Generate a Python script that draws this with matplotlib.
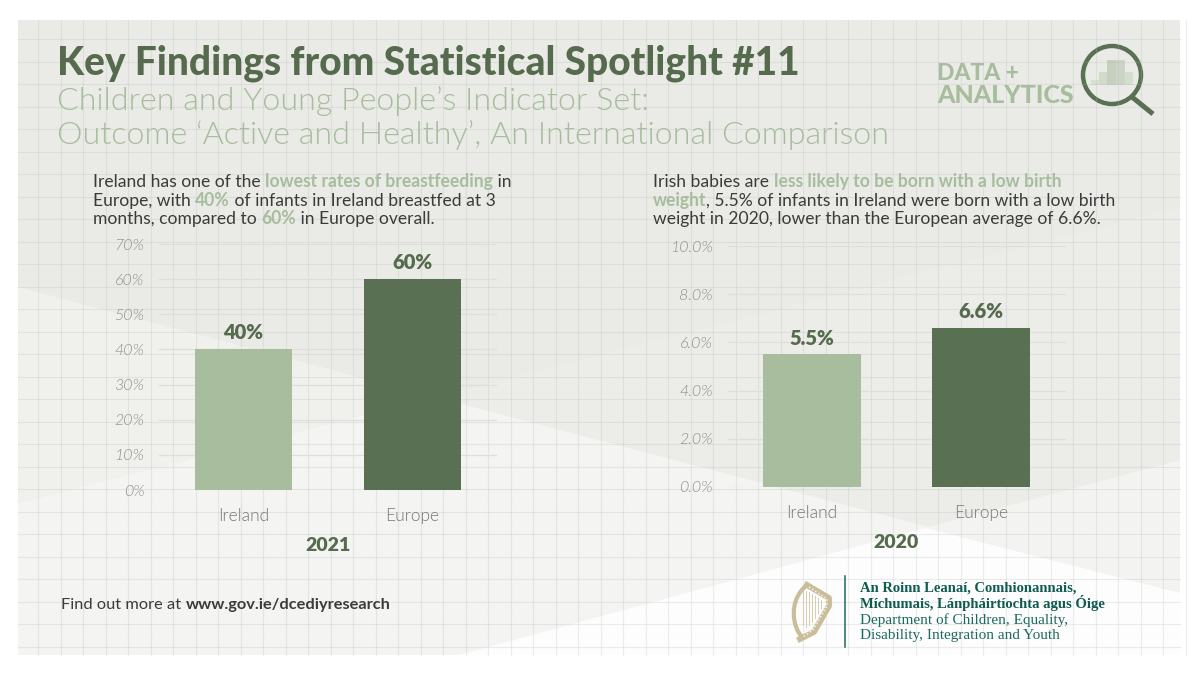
import matplotlib
matplotlib.use("Agg")
import matplotlib.pyplot as plt
from matplotlib import font_manager as fm
from matplotlib.patches import Circle, PathPatch, Polygon, Rectangle
from matplotlib.path import Path

# chart data
categories = ["Ireland", "Europe"]
breastfed = [40, 60]
breastfed_ticks = [0, 10, 20, 30, 40, 50, 60, 70]
birth_weight = [5.5, 6.6]
birth_weight_ticks = [0, 2, 4, 6, 8, 10]
year_left = "2021"
year_right = "2020"

LIGHT = "#a7bd9e"
DARK = "#5a7052"
TITLE = "#566b4e"
BODY = "#3b3b3b"
TICK = "#8f8f8f"
TEAL = "#0f5b50"

plt.rcParams["font.family"] = ["Lato", "DejaVu Sans"]


def lato_file(stem, fallback_style="normal"):
    # weight=light resolves to the hairline cut, so pick the file by its name
    for f in fm.fontManager.ttflist:
        if f.name == "Lato" and f.fname.endswith(stem + ".ttf"):
            return fm.FontProperties(fname=f.fname)
    return fm.FontProperties(family="Lato", style=fallback_style)


lato_light = lato_file("Lato-Light")
lato_light_italic = lato_file("Lato-LightItalic", "italic")

fig = plt.figure(figsize=(12, 6.75), dpi=100, facecolor="white")
bg = fig.add_axes([0, 0, 1, 1])
bg.set_xlim(0, 1200)
bg.set_ylim(675, 0)
bg.axis("off")


def shape(points, color, alpha=1.0):
    bg.add_patch(Polygon(points, closed=True, facecolor=color, edgecolor="none", alpha=alpha))


# background panel and its pale facets
bg.add_patch(Rectangle((18, 20), 1162, 635, facecolor="#eaeae6", edgecolor="none"))
shape([(18, 287), (435, 397), (18, 503)], "#f0f0ed")
shape([(435, 397), (1180, 207), (1180, 593)], "#ecece9")
shape([(18, 503), (435, 397), (1180, 593), (1180, 655), (18, 655)], "#f4f4f2")
shape([(925, 528), (1180, 460), (1180, 593)], "#f3f3f1")
shape([(459, 655), (925, 528), (1180, 593), (1180, 655)], "#fdfdfc")

# graph paper lines
for k in range(52):
    bg.plot([38 + 22.5 * k] * 2, [20, 655], color="#b4bbb9", alpha=0.25, lw=0.8)
for k in range(28):
    bg.plot([18, 1180], [39 + 22.5 * k] * 2, color="#b4bbb9", alpha=0.25, lw=0.8)
shape([(459, 655), (925, 528), (1180, 593), (1180, 655)], "#ffffff", 0.35)


def rich_line(x, y, parts, size):
    renderer = fig.canvas.get_renderer()
    for txt, color, weight in parts:
        bg.text(x, y, txt, color=color, fontsize=size, fontweight=weight, va="baseline", ha="left")
        # measure with guard characters so edge spaces count
        a = bg.text(0, 0, "|" + txt + "|", fontsize=size, fontweight=weight)
        b = bg.text(0, 0, "||", fontsize=size, fontweight=weight)
        x += a.get_window_extent(renderer).width - b.get_window_extent(renderer).width
        a.remove()
        b.remove()


# headings
bg.text(57, 75, "Key Findings from Statistical Spotlight #11", fontsize=28, fontweight="black", color=TITLE)
bg.text(57, 110, "Children and Young People\u2019s Indicator Set:", fontsize=23.2, fontproperties=lato_light, color=LIGHT)
bg.text(57, 144, "Outcome \u2018Active and Healthy\u2019, An International Comparison", fontsize=23.2, fontproperties=lato_light, color=LIGHT)

# captions
rich_line(93, 187, [("Ireland has one of the ", BODY, "normal"), ("lowest rates of breastfeeding", LIGHT, "bold"), (" in", BODY, "normal")], 12.65)
rich_line(93, 206, [("Europe, with ", BODY, "normal"), ("40%", LIGHT, "bold"), (" of infants in Ireland breastfed at 3", BODY, "normal")], 12.65)
rich_line(93, 224, [("months, compared to ", BODY, "normal"), ("60%", LIGHT, "bold"), (" in Europe overall.", BODY, "normal")], 12.65)
rich_line(653, 187, [("Irish babies are ", BODY, "normal"), ("less likely to be born with a low birth", LIGHT, "bold")], 12.65)
rich_line(653, 206, [("weight", LIGHT, "bold"), (", 5.5% of infants in Ireland were born with a low birth", BODY, "normal")], 12.65)
rich_line(653, 224, [("weight in 2020, lower than the European average of 6.6%.", BODY, "normal")], 12.65)
rich_line(61, 609, [("Find out more at ", BODY, "normal"), ("www.gov.ie/dcediyresearch", BODY, "bold")], 11.8)


def bar_panel(left, right, top, bottom, values, ticks, fmt, year, ymax):
    ax = fig.add_axes([left / 1200, 1 - bottom / 675, (right - left) / 1200, (bottom - top) / 675])
    ax.patch.set_alpha(0)
    bars = ax.bar(categories, values, width=0.574, color=[LIGHT, DARK], zorder=3)
    ax.set_xlim(-0.5, 1.5)
    ax.set_ylim(0, ymax)
    ax.set_yticks(ticks)
    ax.set_yticklabels([fmt.format(v) for v in ticks], fontproperties=lato_light_italic, fontsize=11.5, color=TICK)
    ax.tick_params(axis="y", length=0, pad=10.5)
    ax.tick_params(axis="x", length=0, pad=13)
    for lab in ax.get_xticklabels():
        lab.set_fontproperties(lato_light)
        lab.set_fontsize(12.5)
        lab.set_color("#777777")
    ax.yaxis.grid(True, color="#dededb", lw=0.9, zorder=0)
    ax.set_axisbelow(True)
    for s in ax.spines.values():
        s.set_visible(False)
    ax.bar_label(bars, labels=[fmt.format(v) for v in values], padding=5, fontsize=14.5, fontweight="heavy", color=TITLE)
    ax.set_xlabel(year, fontsize=14, fontweight="heavy", color=TITLE, labelpad=9)
    return ax


bar_panel(159, 497, 244, 490, breastfed, breastfed_ticks, "{:.0f}%", year_left, 70)
bar_panel(727.5, 1065.5, 246, 487, birth_weight, birth_weight_ticks, "{:.1f}%", year_right, 10)

# data + analytics logo
bg.text(937, 80, "DATA +", fontsize=16.5, fontweight="black", color=LIGHT)
bg.text(937, 103, "ANALYTICS", fontsize=18, fontweight="black", color=LIGHT)
logo_cells = [(1091, 80, 8, 5, 0.25), (1099, 72, 8, 13, 0.35), (1107, 60, 9, 25, 0.55), (1116, 60, 9, 25, 0.45), (1125, 72, 8, 13, 0.3)]
for cx, cy, cw, ch, ca in logo_cells:
    bg.add_patch(Rectangle((cx, cy), cw, ch, facecolor=LIGHT, alpha=ca, edgecolor="none"))
bg.add_patch(Circle((1112, 75), 29, facecolor="none", edgecolor=DARK, lw=3.2))
bg.plot([1132, 1153], [97, 114], color=DARK, lw=3.6, solid_capstyle="butt")

# harp crest
GOLD = "#c9be99"
harp_arc = Path([(807, 585), (788, 600), (792, 628), (803, 638)], [Path.MOVETO, Path.CURVE4, Path.CURVE4, Path.CURVE4])
bg.add_patch(PathPatch(harp_arc, facecolor="none", edgecolor=GOLD, lw=3.0, capstyle="round"))
bg.plot([807, 829, 829, 814, 800], [585, 598, 606, 632, 639], color=GOLD, lw=4.2, solid_joinstyle="round")
bg.plot([809, 827, 827, 813, 803], [587, 599, 606, 630, 637], color="#f1eddf", lw=1.2, ls=(0, (1, 1.2)))
for sx, st, sb in [(803, 591, 625), (806, 591, 627), (809, 592, 625), (812, 594, 622), (815, 596, 618), (818, 598, 613), (821, 600, 608)]:
    bg.plot([sx, sx], [st, sb], color="#d5cdae", lw=0.7)

# department block
bg.plot([845, 845], [576, 647], color="#1d6a60", lw=1.1)
bg.text(860, 592, "An Roinn Leana\u00ed, Comhionannais,", fontsize=10.5, fontfamily="Liberation Serif", fontweight="bold", color=TEAL)
bg.text(860, 608, "M\u00edchumais, L\u00e1nph\u00e1irt\u00edochta agus \u00d3ige", fontsize=10.5, fontfamily="Liberation Serif", fontweight="bold", color=TEAL)
bg.text(860, 624, "Department of Children, Equality,", fontsize=11, fontfamily="Liberation Serif", color="#1d6a60")
bg.text(860, 639, "Disability, Integration and Youth", fontsize=11, fontfamily="Liberation Serif", color="#1d6a60")

fig.savefig("out.png", dpi=100)
